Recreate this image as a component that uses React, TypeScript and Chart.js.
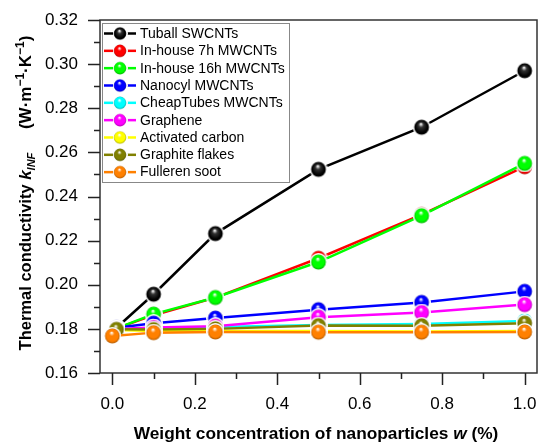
import React, { useEffect, useRef } from 'react';
import { Chart, registerables } from 'chart.js';

Chart.register(...registerables);

// ---------- data ----------
const concentrations = [0.01, 0.1, 0.25, 0.5, 0.75, 1.0];
const fullerenConcentrations = [0.0, 0.1, 0.25, 0.5, 0.75, 1.0];

const seriesNames = [
  'Tuball SWCNTs',
  'In-house 7h MWCNTs',
  'In-house 16h MWCNTs',
  'Nanocyl MWCNTs',
  'CheapTubes MWCNTs',
  'Graphene',
  'Activated carbon',
  'Graphite flakes',
  'Fulleren soot',
];
const seriesColors = [
  '#000000', '#ff0000', '#00ff00', '#0000ff', '#00ffff', '#ff00ff', '#ffff00', '#808000', '#ff8000',
];

const tuball = [0.1805, 0.1957, 0.2232, 0.2523, 0.2714, 0.297];
const inhouse7h = [0.1802, 0.1862, 0.1942, 0.212, 0.2318, 0.2535];
const inhouse16h = [0.1802, 0.1867, 0.1942, 0.2103, 0.2313, 0.255];
const nanocyl = [0.1805, 0.1826, 0.1849, 0.1887, 0.192, 0.197];
const cheapTubes = [0.18, 0.1803, 0.1808, 0.1818, 0.1822, 0.1836];
const graphene = [0.18, 0.1806, 0.1812, 0.1853, 0.1874, 0.191];
const activatedCarbon = [0.1795, 0.179, 0.179, 0.179, 0.1788, 0.179];
const graphiteFlakes = [0.1798, 0.1797, 0.18, 0.1815, 0.1814, 0.1826];
const fullerenSoot = [0.1768, 0.1783, 0.1786, 0.1785, 0.1785, 0.1786];

const yMajorTicks = [0.16, 0.18, 0.2, 0.22, 0.24, 0.26, 0.28, 0.3, 0.32];
const yMinorTicks = [0.17, 0.19, 0.21, 0.23, 0.25, 0.27, 0.29, 0.31];
const xMajorTicks = [0.0, 0.2, 0.4, 0.6, 0.8, 1.0];
const xMinorTicks = [0.1, 0.3, 0.5, 0.7, 0.9];

const FONT = '"Liberation Sans", Arial, sans-serif';

function shade(hex: string, f: number) {
  const n = parseInt(hex.slice(1), 16);
  const r = Math.round(((n >> 16) & 255) * f);
  const g = Math.round(((n >> 8) & 255) * f);
  const b = Math.round((n & 255) * f);
  return `rgb(${r},${g},${b})`;
}

function makeBall(color: string, r: number, halo: number) {
  const size = Math.ceil(2 * (r + halo));
  const c = document.createElement('canvas');
  c.width = size;
  c.height = size;
  const g = c.getContext('2d')!;
  const cx = size / 2;
  const cy = size / 2;
  if (halo > 0) {
    g.fillStyle = '#ffffff';
    g.beginPath();
    g.arc(cx, cy, r + halo, 0, Math.PI * 2);
    g.fill();
  }
  const grad = g.createRadialGradient(cx - r * 0.1, cy - r * 0.45, r * 0.05, cx, cy, r);
  grad.addColorStop(0, '#ffffff');
  grad.addColorStop(0.3, color === '#000000' ? '#333333' : color);
  grad.addColorStop(0.8, color);
  grad.addColorStop(1, shade(color, 0.7));
  g.fillStyle = grad;
  g.beginPath();
  g.arc(cx, cy, r, 0, Math.PI * 2);
  g.fill();
  return c;
}

const framePlugin = {
  id: 'customFrame',
  afterDraw(chart: any) {
    const { ctx, chartArea: a, scales } = chart;
    const xs = scales.x;
    const ys = scales.y;
    ctx.save();
    // frame
    ctx.strokeStyle = '#333333';
    ctx.lineWidth = 1.5;
    ctx.strokeRect(a.left, a.top, a.right - a.left, a.bottom - a.top);
    // ticks
    ctx.strokeStyle = '#222222';
    ctx.lineWidth = 1.5;
    ctx.beginPath();
    yMajorTicks.forEach((v) => {
      const y = Math.round(ys.getPixelForValue(v)) + 0.5;
      ctx.moveTo(a.left - 12, y);
      ctx.lineTo(a.left, y);
    });
    yMinorTicks.forEach((v) => {
      const y = Math.round(ys.getPixelForValue(v)) + 0.5;
      ctx.moveTo(a.left - 6, y);
      ctx.lineTo(a.left, y);
    });
    xMajorTicks.forEach((v) => {
      const x = Math.round(xs.getPixelForValue(v)) + 0.5;
      ctx.moveTo(x, a.bottom);
      ctx.lineTo(x, a.bottom + 12);
    });
    xMinorTicks.forEach((v) => {
      const x = Math.round(xs.getPixelForValue(v)) + 0.5;
      ctx.moveTo(x, a.bottom);
      ctx.lineTo(x, a.bottom + 6);
    });
    ctx.stroke();

    // x title
    ctx.fillStyle = '#000000';
    ctx.textBaseline = 'alphabetic';
    const xParts = [
      { t: 'Weight concentration of nanoparticles ', f: `bold 17.3px ${FONT}`, dy: 0 },
      { t: 'w', f: `italic bold 17.3px ${FONT}`, dy: 0 },
      { t: ' (%)', f: `bold 17.3px ${FONT}`, dy: 0 },
    ];
    drawParts(ctx, xParts, 316, 433);

    // y title (rotated)
    ctx.save();
    ctx.translate(25, 193);
    ctx.rotate(-Math.PI / 2);
    const yParts = [
      { t: 'Thermal conductivity ', f: `bold 16.5px ${FONT}`, dy: 0 },
      { t: 'k', f: `italic bold 17px ${FONT}`, dy: 0 },
      { t: 'INF', f: `italic bold 11px ${FONT}`, dy: 4 },
      { t: '     (W\u00b7m', f: `bold 17px ${FONT}`, dy: 0 },
      { t: '\u22121', f: `bold 12px ${FONT}`, dy: -7 },
      { t: '\u00b7K', f: `bold 17px ${FONT}`, dy: 0 },
      { t: '\u22121', f: `bold 12px ${FONT}`, dy: -7 },
      { t: ')', f: `bold 17px ${FONT}`, dy: 0 },
    ];
    drawParts(ctx, yParts, 0, 0);
    ctx.restore();

    // legend
    const bx = 102;
    const by = 23;
    const bw = 187;
    const bh = 159;
    ctx.fillStyle = '#ffffff';
    ctx.fillRect(bx, by, bw, bh);
    ctx.strokeStyle = '#888888';
    ctx.lineWidth = 1;
    ctx.strokeRect(bx + 0.5, by + 0.5, bw, bh);
    ctx.font = `14px ${FONT}`;
    ctx.textBaseline = 'middle';
    chart.data.datasets.forEach((ds: any, i: number) => {
      const y = 33.5 + i * 17.33;
      ctx.strokeStyle = ds.borderColor;
      ctx.lineWidth = 2.5;
      ctx.beginPath();
      ctx.moveTo(104, y);
      ctx.lineTo(136, y);
      ctx.stroke();
      const img = ds.pointStyle as HTMLCanvasElement;
      ctx.drawImage(img, 120 - 7.5, y - 7.5, 15, 15);
      ctx.fillStyle = '#000000';
      ctx.fillText(ds.label, 140, y + 0.5);
    });
    ctx.restore();
  },
};

function drawParts(ctx: CanvasRenderingContext2D, parts: { t: string; f: string; dy: number }[], cx: number, baseY: number) {
  let total = 0;
  parts.forEach((p) => {
    ctx.font = p.f;
    total += ctx.measureText(p.t).width;
  });
  let x = cx - total / 2;
  ctx.textAlign = 'left';
  parts.forEach((p) => {
    ctx.font = p.f;
    ctx.fillText(p.t, x, baseY + p.dy + 6);
    x += ctx.measureText(p.t).width;
  });
}

export default function App() {
  const ref = useRef<HTMLCanvasElement | null>(null);

  useEffect(() => {
    document.body.style.margin = '0';
    const canvas = ref.current;
    if (!canvas) return;
    const allSeries = [
      tuball, inhouse7h, inhouse16h, nanocyl, cheapTubes, graphene, activatedCarbon, graphiteFlakes, fullerenSoot,
    ];
    const datasets = allSeries.map((vals, i) => {
      const xs = i === 8 ? fullerenConcentrations : concentrations;
      return {
        label: seriesNames[i],
        data: xs.map((x, j) => ({ x, y: vals[j] })),
        borderColor: seriesColors[i],
        backgroundColor: seriesColors[i],
        borderWidth: 2.5,
        pointStyle: makeBall(seriesColors[i], 7.4, 1.6) as any,
        showLine: true,
        order: allSeries.length - i,
        clip: false as any,
      };
    });

    const chart = new Chart(canvas, {
      type: 'scatter',
      data: { datasets },
      plugins: [framePlugin],
      options: {
        responsive: false,
        animation: false,
        layout: { autoPadding: false, padding: { top: 20, right: 2, left: 0, bottom: 0 } },
        plugins: { legend: { display: false }, tooltip: { enabled: false } },
        scales: {
          x: {
            type: 'linear',
            min: -0.03,
            max: 1.03,
            afterBuildTicks: (s: any) => {
              s.ticks = xMajorTicks.map((v) => ({ value: v }));
            },
            afterFit: (s: any) => {
              s.height = 73;
              s.paddingRight = 0;
              s.paddingLeft = 0;
            },
            ticks: {
              autoSkip: false,
              maxRotation: 0,
              color: '#000000',
              padding: 9,
              font: { family: FONT, size: 17 },
              callback: (v: any) => Number(v).toFixed(1),
            },
            grid: { drawOnChartArea: false, tickLength: 12, tickColor: 'transparent' },
            border: { display: false },
          },
          y: {
            type: 'linear',
            min: 0.16,
            max: 0.32,
            afterBuildTicks: (s: any) => {
              s.ticks = yMajorTicks.map((v) => ({ value: v }));
            },
            afterFit: (s: any) => {
              s.width = 100;
              s.paddingTop = 0;
              s.paddingBottom = 0;
            },
            ticks: {
              autoSkip: false,
              color: '#000000',
              padding: 10,
              font: { family: FONT, size: 17 },
              callback: (v: any) => Number(v).toFixed(2),
            },
            grid: { drawOnChartArea: false, tickLength: 12, tickColor: 'transparent' },
            border: { display: false },
          },
        },
      },
    });
    return () => chart.destroy();
  }, []);

  return (
    <div style={{ width: 539, height: 446 }}>
      <canvas ref={ref} width={539} height={446} style={{ display: 'block' }} />
    </div>
  );
}
